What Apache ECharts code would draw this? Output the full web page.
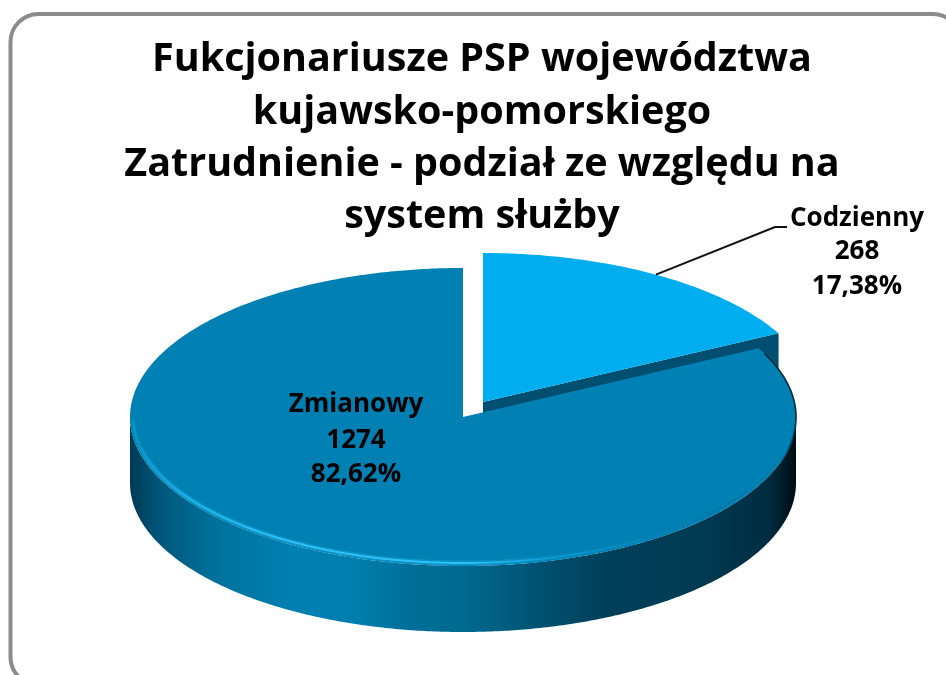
<!DOCTYPE html>
<html><head><meta charset="utf-8">
<style>html,body{margin:0;padding:0;background:#fff;overflow:hidden}#c{width:946px;height:675px}</style>
<script src="https://cdn.jsdelivr.net/npm/echarts@6/dist/echarts.min.js"></script>
</head><body><div id="c"></div>
<script>
const titleLines = ['Fukcjonariusze PSP województwa','kujawsko-pomorskiego','Zatrudnienie - podział ze względu na','system służby'];
const categories = ['Codzienny','Zmianowy'];
const values = [268,1274];
const total = values.reduce((a,b)=>a+b,0);
const FONT = '"Open Sans"';
const RX=333, RY=149, DEPTH=66;
const CENTERS=[[483,402],[463,417]];
const LABELS=[{x:857,ys:[219,252,287],size:26},{x:356,ys:[405,441,475],size:26}];
const ELBOW=[[775,227],[787,227]];
const TOPS=['#00aeef','#0080b3'];
const FACE='#004f70';
const chart=echarts.init(document.getElementById('c'),null,{renderer:'canvas'});
function pt(c,t,r,dy){r=r||0;return [c[0]+(RX-r)*Math.sin(t),c[1]-(RY-r)*Math.cos(t)+(dy||0)];}
function arc(c,a,b,r,dy){const n=Math.max(2,Math.ceil(Math.abs(b-a)/0.01));const out=[];for(let i=0;i<=n;i++)out.push(pt(c,a+(b-a)*i/n,r,dy));return out;}
function hGrad(x0,x1,stops){return new echarts.graphic.LinearGradient(x0,0,x1,0,stops,true);}
function renderItem(params,api){
  const i=params.dataIndex,c=CENTERS[i];
  let before=0;for(let k=0;k<i;k++)before+=values[k];
  const a=before/total*2*Math.PI,b=(before+api.value(0))/total*2*Math.PI;
  const ch=[];
  if(b>0&&b<Math.PI){
    const p=pt(c,b);
    ch.push({type:'polygon',shape:{points:[c,p,[p[0],p[1]+DEPTH],[c[0],c[1]+DEPTH]]},style:{fill:FACE}});
  }
  const wa=Math.max(a,Math.PI/2),wb=Math.min(b,1.5*Math.PI);
  if(wb>wa){
    const top=arc(c,wa,wb),bot=arc(c,wb,wa,0,DEPTH);
    ch.push({type:'polygon',shape:{points:top.concat(bot)},style:{fill:hGrad(c[0]-RX,c[0]+RX,[
      {offset:0,color:'#003a54'},{offset:.04,color:'#005478'},{offset:.12,color:'#00709a'},{offset:.24,color:'#0080b0'},
      {offset:.34,color:'#007fae'},{offset:.42,color:'#006f98'},{offset:.5,color:'#006a90'},{offset:.62,color:'#005070'},
      {offset:.72,color:'#003f59'},{offset:.86,color:'#003a52'},{offset:.96,color:'#002c40'},{offset:1,color:'#000c12'}])}});
  }
  const top=[c].concat(arc(c,a,b));
  ch.push({type:'polygon',shape:{points:top},style:{fill:TOPS[i]}});
  if(wb>wa){
    const r1=arc(c,Math.PI*0.6,wb-0.02,3);
    ch.push({type:'polyline',shape:{points:r1},style:{fill:null,lineWidth:5,stroke:hGrad(c[0]-RX,c[0]+RX,[
      {offset:0,color:'#0080b3'},{offset:.03,color:'#0a93c6'},{offset:.5,color:'#0a93c6'},{offset:.72,color:'#0080b3'},{offset:1,color:'#0080b3'}])}});
    ch.push({type:'polyline',shape:{points:r1},style:{fill:null,lineWidth:2,stroke:hGrad(c[0]-RX,c[0]+RX,[
      {offset:0,color:'#0a93c6'},{offset:.08,color:'#1fb2e8'},{offset:.22,color:'#2fc0f5'},{offset:.5,color:'#2fc0f5'},
      {offset:.64,color:'#0a98cf'},{offset:.88,color:'#0078a8'},{offset:1,color:'#0080b3'}])}});
    const o=arc(c,a+0.04,Math.PI*0.6);
    ch.push({type:'polyline',shape:{points:o},style:{fill:null,lineWidth:1.6,stroke:new echarts.graphic.LinearGradient(0,c[1]-70,0,c[1]+50,[
      {offset:0,color:'#00293a'},{offset:.65,color:'#00293a'},{offset:1,color:'#0080b3'}],true)}});
  }
  const L=LABELS[i];
  const lines=[categories[i],String(values[i]),(values[i]/total*100).toFixed(2).replace('.',',')+'%'];
  lines.forEach((t,k)=>ch.push({type:'text',z2:5,style:{text:t,x:L.x,y:L.ys[k],align:'center',verticalAlign:'middle',font:`bold ${L.size}px ${FONT}`,fill:'#000'}}));
  if(i===0){
    const s=pt(c,(a+b)/2);
    ch.push({type:'polyline',z2:5,shape:{points:[s].concat(ELBOW)},style:{fill:null,stroke:'#111',lineWidth:2}});
  }
  return {type:'group',children:ch};
}
chart.setOption({
  animation:false,backgroundColor:'#fff',
  title:{text:titleLines.join('\n'),left:477,top:29,textAlign:'center',textStyle:{fontFamily:FONT,fontWeight:'bold',fontSize:39.5,lineHeight:52.3,color:'#000'}},
  graphic:[{type:'rect',silent:true,shape:{x:10.5,y:14,width:950,height:671,r:28},style:{fill:null,stroke:'#8c8c8c',lineWidth:4}}],
  series:[{type:'custom',coordinateSystem:'none',renderItem,data:categories.map((n,i)=>({name:n,value:[values[i]]})),encode:{value:0},silent:true}]
});
</script></body></html>
